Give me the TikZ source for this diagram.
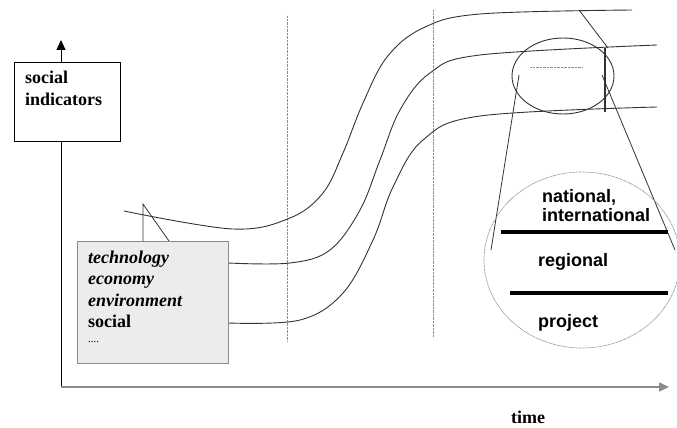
\documentclass[tikz,border=0pt]{standalone}
\usepackage{fontspec}
\setmainfont{Liberation Serif}
\newfontfamily\labelsans{Liberation Sans}
\usetikzlibrary{arrows.meta}
\definecolor{ink}{HTML}{333333}
\definecolor{boxgray}{HTML}{ECECEC}
\definecolor{edgegray}{HTML}{8A8A8A}
\definecolor{dotgray}{HTML}{8C8C8C}
\begin{document}
\begin{tikzpicture}[x=1pt,y=-1pt,
  serif/.style={inner sep=0pt,anchor=base west,font=\fontsize{18}{21.5}\selectfont\bfseries},
  sserif/.style={inner sep=0pt,anchor=base west,font=\fontsize{18}{21.5}\selectfont\bfseries\itshape},
  sanslbl/.style={inner sep=0pt,anchor=base west,font=\labelsans\fontsize{18}{20}\selectfont\bfseries},
  thin/.style={draw=ink,line width=0.8pt},
  curve/.style={draw=ink,line width=0.9pt},
  dotline/.style={draw=dotgray,line width=0.7pt,dash pattern=on 0.7pt off 0.7pt},
  tip/.style={-{Triangle[length=10pt,width=9pt]}},
  bar/.style={draw=black,line width=3.6pt}]
\useasboundingbox (0,0) rectangle (677,428);
\clip (0,0) rectangle (677,428);

% axes
\coordinate (origin) at (61,387);
\coordinate (ytop) at (61,40);
\coordinate (xend) at (669,387);
\draw[draw=black,line width=1pt,tip] (origin) -- (ytop);
\draw[draw=edgegray,line width=1.6pt,tip] (origin) -- (xend);
\node[serif] (time) at (511,423) {time};

% social indicators box
\node[draw=black,fill=white,line width=1pt,inner sep=0pt,anchor=north west,
      minimum width=106pt,minimum height=79pt] (sibox) at (14,62) {};
\node[serif] (si1) at (25,84) {social};
\node[serif] (si2) at (25,105) {indicators};

% dotted vertical lines
\coordinate (v1t) at (287,16); \coordinate (v1b) at (287,342);
\coordinate (v2t) at (433,10); \coordinate (v2b) at (433,337);
\draw[dotline] (v1t) -- (v1b);
\draw[dotline] (v2t) -- (v2b);

% curves
\draw[curve] plot[smooth,tension=0.6] coordinates {(124,211) (233,229) (290,218) (323,193) (343,153) (363,103) (387,57) (423,28) (480,14) (632,10)};
\draw[curve] plot[smooth,tension=0.6] coordinates {(228,263) (290,263) (330,250) (360,210) (380,160) (400,110) (430,73) (480,55) (657,45)};
\draw[curve] plot[smooth,tension=0.6] coordinates {(228,323) (300,320) (343,293) (373,240) (393,187) (423,140) (480,116) (657,107)};

% grey box
\node[draw=edgegray,fill=boxgray,line width=1.3pt,inner sep=0pt,anchor=north west,
      minimum width=151pt,minimum height=122pt] (gbox) at (77,241) {};
\node[sserif] (g1) at (88,263) {technology};
\node[sserif] (g2) at (88,284.5) {economy};
\node[sserif] (g3) at (88,306) {environment};
\node[serif] (g4) at (88,327.5) {social};
\node[inner sep=0pt,anchor=base west,font=\fontsize{11}{12}\selectfont] (g5) at (88,342) {....};

% left callout
\coordinate (lc) at (143,204);
\coordinate (lcA) at (143,241);
\coordinate (lcB) at (169,241);
\draw[thin] (lcA) -- (lc) -- (lcB);

% small ellipse
\draw[draw=ink,line width=0.9pt] (563,76) ellipse [x radius=51,y radius=38];
\coordinate (sd1) at (530,67); \coordinate (sd2) at (583,67);
\draw[dotline] (sd1) -- (sd2);

% right callout
\coordinate (rc0) at (579,10);
\coordinate (rc1) at (608,48);
\coordinate (rv1) at (605,48);
\coordinate (rv2) at (605,112);
\draw[thin] (rc0) -- (rc1);
\draw[draw=ink,line width=1.1pt] (rv1) -- (rv2);

% magnifying lines
\coordinate (m1a) at (519,75); \coordinate (m1b) at (491,250);
\coordinate (m2a) at (602,75); \coordinate (m2b) at (675,250);
\draw[thin] (m1a) -- (m1b);
\draw[thin] (m2a) -- (m2b);

% big dotted ellipse
\draw[draw=dotgray,line width=0.7pt,dash pattern=on 0.8pt off 0.6pt] (582,260) ellipse [x radius=98,y radius=88];

% levels
\coordinate (b1a) at (501,232); \coordinate (b1b) at (668,232);
\coordinate (b2a) at (510,293); \coordinate (b2b) at (668,293);
\draw[bar] (b1a) -- (b1b);
\draw[bar] (b2a) -- (b2b);
\node[sanslbl] (l1) at (542,202) {national,};
\node[sanslbl] (l2) at (542,221) {international};
\node[sanslbl] (l3) at (538,266) {regional};
\node[sanslbl] (l4) at (538,327) {project};
\end{tikzpicture}
\end{document}
